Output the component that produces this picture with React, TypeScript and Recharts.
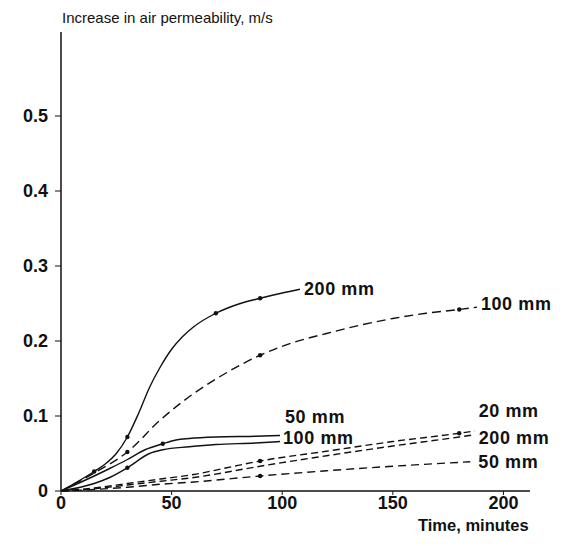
import { Line, LineChart, XAxis, YAxis } from 'recharts'

// time (minutes) and permeability increase (m/s) for each curve
const tA = [0, 15, 20, 25, 30, 35, 40, 45, 50, 55, 60, 70, 80, 90, 100, 108]
const vA = [0, 0.026, 0.036, 0.05, 0.072, 0.103, 0.138, 0.166, 0.189, 0.206, 0.219, 0.237, 0.249, 0.257, 0.264, 0.269]
const tB = [0, 15, 30, 45, 60, 75, 90, 105, 120, 135, 150, 165, 180, 188]
const vB = [0, 0.024, 0.052, 0.095, 0.13, 0.158, 0.181, 0.198, 0.21, 0.221, 0.23, 0.237, 0.242, 0.245]
const tC = [0, 15, 22, 30, 38, 46, 52, 58, 70, 88, 99]
const vC = [0, 0.02, 0.03, 0.042, 0.055, 0.063, 0.068, 0.07, 0.072, 0.073, 0.074]
const tD = [0, 15, 22, 30, 40, 46, 58, 70, 88, 99]
const vD = [0, 0.01, 0.018, 0.031, 0.05, 0.055, 0.059, 0.062, 0.064, 0.066]
const tE = [0, 15, 30, 45, 60, 75, 90, 120, 150, 180, 187]
const vE = [0, 0.004, 0.01, 0.016, 0.022, 0.031, 0.04, 0.053, 0.066, 0.077, 0.08]
const tF = [0, 15, 30, 45, 60, 90, 120, 150, 180, 187]
const vF = [0, 0.003, 0.008, 0.013, 0.018, 0.033, 0.047, 0.06, 0.072, 0.075]
const tG = [0, 15, 30, 45, 60, 90, 120, 150, 185]
const vG = [0, 0.002, 0.005, 0.009, 0.012, 0.02, 0.027, 0.033, 0.039]

const xTicks = [0, 50, 100, 150, 200]
const yTicks = [0, 0.1, 0.2, 0.3, 0.4, 0.5]

const font = '"Liberation Sans", Arial, sans-serif'
const ink = '#111'

const build = (ts: number[], vs: number[]) => ts.map((t, i) => ({ t, v: vs[i] }))

const series = [
  { data: build(tA, vA), dash: undefined, label: '200 mm', dx: 4, dy: 0, marks: [15, 30, 70, 90] },
  { data: build(tB, vB), dash: '9 5', label: '100 mm', dx: 4, dy: -3, marks: [30, 90, 180] },
  { data: build(tC, vC), dash: undefined, label: '50 mm', dx: 5, dy: -19, marks: [46] },
  { data: build(tD, vD), dash: undefined, label: '100 mm', dx: 3, dy: -4, marks: [30] },
  { data: build(tE, vE), dash: '7 4', label: '20 mm', dx: 4, dy: -20, marks: [90, 180] },
  { data: build(tF, vF), dash: '7 4', label: '200 mm', dx: 4, dy: 3, marks: [] as number[] },
  { data: build(tG, vG), dash: '8 5', label: '50 mm', dx: 8, dy: 0, marks: [90] },
]

export default function App() {
  return (
    <div style={{ position: 'absolute', left: 0, top: 0, width: 578, height: 546, background: '#fff', fontFamily: font }}>
      <div style={{ position: 'absolute', left: 62, top: 9, fontSize: 15, color: ink }}>
        Increase in air permeability, m/s
      </div>
      <div style={{ position: 'absolute', left: 418, top: 516, fontSize: 16.5, fontWeight: 'bold', color: ink }}>
        Time, minutes
      </div>
      <LineChart width={578} height={546} margin={{ top: 32, right: 48, left: 0, bottom: 0 }}>
        <XAxis
          dataKey="t"
          type="number"
          domain={[0, 212]}
          ticks={xTicks}
          height={55}
          tickSize={4}
          tickMargin={1}
          axisLine={{ stroke: ink, strokeWidth: 1.5 }}
          tickLine={{ stroke: ink }}
          tick={{ fill: ink, fontSize: 18, fontWeight: 'bold', fontFamily: font }}
          allowDuplicatedCategory={false}
        />
        <YAxis
          type="number"
          domain={[0, 0.612]}
          ticks={yTicks}
          width={61}
          tickSize={6}
          tickMargin={7}
          axisLine={{ stroke: ink, strokeWidth: 1.5 }}
          tickLine={{ stroke: ink }}
          tick={{ fill: ink, fontSize: 18, fontWeight: 'bold', fontFamily: font }}
          tickFormatter={(v: number) => (v === 0 ? '0' : v.toFixed(1))}
        />
        {series.map((s, si) => (
          <Line
            key={si}
            data={s.data}
            dataKey="v"
            type="monotone"
            stroke={ink}
            strokeWidth={1.4}
            strokeDasharray={s.dash}
            isAnimationActive={false}
            dot={(p: any) =>
              s.marks.includes(p.payload.t) ? (
                <circle key={p.index} cx={p.cx} cy={p.cy} r={2.2} fill={ink} />
              ) : (
                <g key={p.index} />
              )
            }
            label={(p: any) =>
              p.index === s.data.length - 1 ? (
                <text
                  key={p.index}
                  x={p.x + s.dx}
                  y={p.y + s.dy}
                  dominantBaseline="central"
                  fontSize={18}
                  fontWeight="bold"
                  letterSpacing={0.6}
                  fontFamily={font}
                  fill={ink}
                >
                  {s.label}
                </text>
              ) : (
                <g key={p.index} />
              )
            }
          />
        ))}
      </LineChart>
    </div>
  )
}
